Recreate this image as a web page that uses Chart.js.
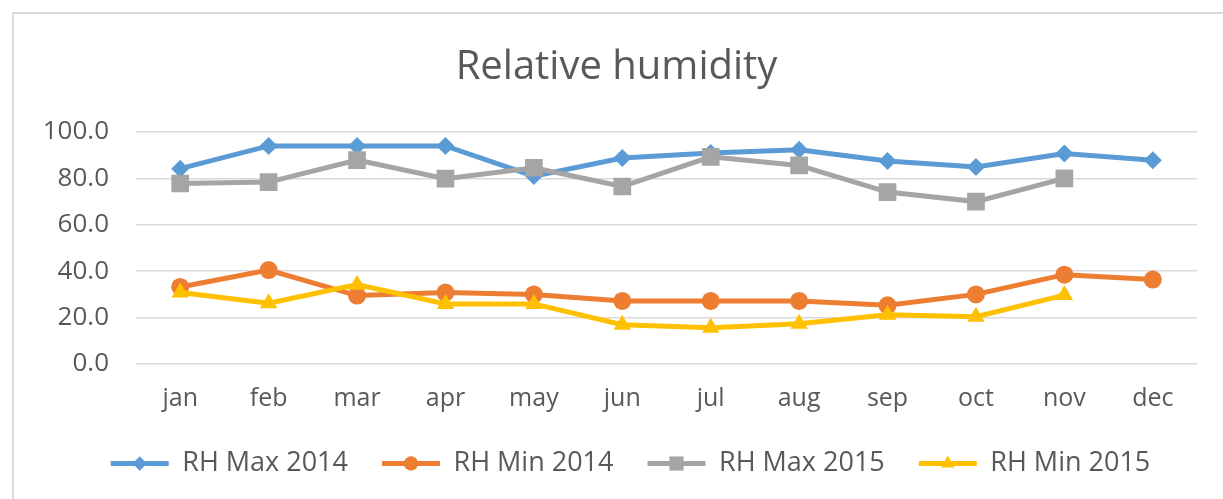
<!DOCTYPE html>
<html>
<head>
<meta charset="utf-8">
<script src="https://cdn.jsdelivr.net/npm/chart.js@4"></script>
<style>
  html, body { margin: 0; padding: 0; background: #fff; }
  #wrap { position: relative; width: 1223px; height: 499px; }
  #frame { position: absolute; left: 12px; top: 12px; width: 1220px; height: 500px; border: 2px solid #d9d9d9; box-sizing: border-box; pointer-events: none; }
</style>
</head>
<body>
<div id="wrap">
  <canvas id="chart" width="1223" height="499"></canvas>
  <div id="frame"></div>
</div>
<script>
var months = ["jan", "feb", "mar", "apr", "may", "jun", "jul", "aug", "sep", "oct", "nov", "dec"];
var rhMax2014 = [84.2, 94.0, 94.0, 94.0, 81.0, 88.8, 91.0, 92.3, 87.5, 84.9, 90.7, 87.8];
var rhMin2014 = [33.2, 40.5, 29.5, 30.8, 30.0, 27.2, 27.2, 27.2, 25.3, 30.0, 38.5, 36.4];
var rhMax2015 = [77.8, 78.4, 87.9, 79.9, 84.6, 76.5, 89.3, 85.6, 74.1, 70.0, 80.0, null];
var rhMin2015 = [30.8, 26.2, 34.2, 25.9, 25.9, 16.9, 15.6, 17.4, 21.2, 20.4, 29.7, null];
var yTicks = [0, 20, 40, 60, 80, 100];

var FONT = "Open Sans";
var textColor = "#595959";

var series = [
  { label: "RH Max 2014", data: rhMax2014, color: "#5b9bd5", style: "rectRot", r: 9 },
  { label: "RH Min 2014", data: rhMin2014, color: "#ed7d31", style: "circle", r: 9 },
  { label: "RH Max 2015", data: rhMax2015, color: "#a5a5a5", style: "rect", r: 12.5 },
  { label: "RH Min 2015", data: rhMin2015, color: "#ffc000", style: "triangle", r: 10 }
];

var datasets = series.map(function(s, i) {
  return {
    label: s.label,
    data: s.data,
    borderColor: s.color,
    backgroundColor: s.color,
    borderWidth: 5,
    pointStyle: s.style,
    pointRadius: s.r,
    pointBorderWidth: 0,
    pointHoverRadius: s.r,
    order: 10 - i,
    tension: 0,
    spanGaps: false
  };
});

// nudges the legend right and draws the marker on top of each legend line
var legendMarkers = {
  id: "legendMarkers",
  afterLayout: function(chart) {
    var lg = chart.legend;
    if (!lg) return;
    lg.left += 14;
    lg.right += 14;
  },
  afterDraw: function(chart) {
    var legend = chart.legend;
    if (!legend || !legend.legendHitBoxes) return;
    var ctx = chart.ctx;
    var bw = legend.options.labels.boxWidth;
    legend.legendHitBoxes.forEach(function(box, i) {
      var s = series[i];
      ctx.save();
      ctx.fillStyle = s.color;
      ctx.strokeStyle = s.color;
      Chart.helpers.drawPoint(ctx, { pointStyle: s.style, radius: s.r * 0.8, borderWidth: 0, rotation: 0 },
        box.left + bw / 2, box.top + box.height / 2);
      ctx.restore();
    });
  }
};

new Chart(document.getElementById("chart").getContext("2d"), {
  type: "line",
  data: { labels: months, datasets: datasets },
  plugins: [legendMarkers],
  options: {
    responsive: false,
    animation: false,
    layout: { padding: { left: 36, right: 26, top: 0, bottom: 12 } },
    plugins: {
      title: {
        display: true,
        text: "Relative humidity",
        color: textColor,
        font: { family: FONT, size: 40, weight: "normal" },
        padding: { top: 44, bottom: 40 }
      },
      legend: {
        position: "bottom",
        labels: {
          boxWidth: 58,
          boxHeight: 5,
          padding: 34,
          color: textColor,
          font: { family: FONT, size: 27 },
          generateLabels: function(chart) {
            return series.map(function(s, i) {
              return {
                text: s.label,
                fillStyle: s.color,
                strokeStyle: s.color,
                lineWidth: 0,
                datasetIndex: i,
                fontColor: textColor
              };
            });
          }
        }
      },
      tooltip: { enabled: false }
    },
    scales: {
      x: {
        offset: true,
        grid: { display: false },
        border: { display: false },
        ticks: { color: textColor, font: { family: FONT, size: 25 }, padding: 12 },
        afterFit: function(scale) { scale.height = 52; }
      },
      y: {
        min: 0,
        max: 100,
        afterBuildTicks: function(scale) {
          scale.ticks = yTicks.map(function(v) { return { value: v }; });
        },
        grid: { color: "#d9d9d9", lineWidth: 1.5, drawTicks: false },
        border: { display: false },
        ticks: {
          color: textColor,
          font: { family: FONT, size: 26 },
          padding: 27,
          callback: function(v) { return Number(v).toFixed(1); }
        },
        afterFit: function(scale) { scale.width = 100; }
      }
    }
  }
});
</script>
</body>
</html>
